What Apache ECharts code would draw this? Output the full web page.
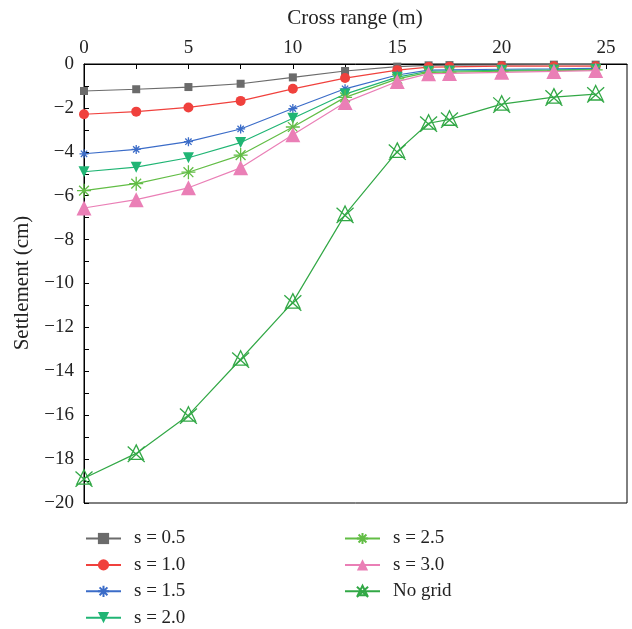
<!DOCTYPE html>
<html>
<head>
<meta charset="utf-8">
<script src="https://cdn.jsdelivr.net/npm/echarts@6/dist/echarts.min.js"></script>
<style>html,body{margin:0;padding:0;background:#fff}#c{width:632px;height:629px}</style>
</head>
<body>
<div id="c"></div>
<script>
var crossRange = [0, 2.5, 5, 7.5, 10, 12.5, 15, 16.5, 17.5, 20, 22.5, 24.5];
var s05 = [-1.23, -1.15, -1.05, -0.9, -0.61, -0.32, -0.12, -0.06, -0.05, -0.04, -0.03, -0.03];
var s10 = [-2.29, -2.17, -1.98, -1.68, -1.13, -0.64, -0.28, -0.14, -0.13, -0.1, -0.1, -0.1];
var s15 = [-4.09, -3.89, -3.54, -2.96, -2.03, -1.13, -0.5, -0.28, -0.27, -0.24, -0.22, -0.2];
var s20 = [-4.91, -4.7, -4.27, -3.58, -2.47, -1.37, -0.6, -0.33, -0.32, -0.29, -0.27, -0.24];
var s25 = [-5.77, -5.45, -4.93, -4.15, -2.87, -1.52, -0.68, -0.38, -0.37, -0.33, -0.3, -0.27];
var s30 = [-6.56, -6.18, -5.64, -4.73, -3.22, -1.75, -0.8, -0.44, -0.43, -0.38, -0.34, -0.3];
var noGrid = [-18.87, -17.74, -16.0, -13.45, -10.85, -6.86, -3.98, -2.7, -2.52, -1.83, -1.51, -1.37];
var xLabelTicks = [0, 5, 10, 15, 20, 25];
var xMinorTicks = [0, 2.5, 5, 7.5, 10, 12.5, 15, 17.5, 20, 22.5, 25];
var yTicks = [];
for (var t = -20; t <= 0; t++) yTicks.push(t);
var xTitle = 'Cross range (m)';
var yTitle = 'Settlement (cm)';

var names = ['s = 0.5', 's = 1.0', 's = 1.5', 's = 2.0', 's = 2.5', 's = 3.0', 'No grid'];
var values = [s05, s10, s15, s20, s25, s30, noGrid];
var colors = ['#6b6b6b', '#f0413d', '#3b6cc8', '#20b574', '#62bd45', '#ea7fb6', '#32a846'];
var asterisk = 'path://M5,0L5,10M0,5L10,5M1.5,1.5L8.5,8.5M1.5,8.5L8.5,1.5';
var triX = 'path://M5,0L9.2,8.5L0.8,8.5Z M0,1L10,10M10,1L0,10';
var symbols = ['rect', 'circle', asterisk, 'triangle', asterisk, 'triangle', triX];
var sizes = [8, 10, 9, 11, 14, 15, 17];
var rotates = [0, 0, 0, 180, 0, 0, 0];
var stroked = [false, false, true, false, true, false, true];

function pairs(v) { return crossRange.map(function (x, i) { return [x, v[i]]; }); }

var series = names.map(function (n, i) {
  return {
    name: n, type: 'line', data: pairs(values[i]),
    symbol: symbols[i], symbolSize: sizes[i], symbolRotate: rotates[i],
    showAllSymbol: true,
    lineStyle: { color: colors[i], width: 1.2 },
    itemStyle: stroked[i] ? { color: 'rgba(255,255,255,0)', borderColor: colors[i], borderWidth: 1.3 }
                         : { color: colors[i], borderWidth: 0 },
    emphasis: { disabled: true },
    z: 2 + i
  };
});

var font = 'Liberation Serif';
var legendText = { fontFamily: font, fontSize: 19, color: '#222', padding: [0, 0, 0, 8] };
var chart = echarts.init(document.getElementById('c'));
chart.setOption({
  animation: false,
  textStyle: { fontFamily: font },
  grid: { left: 84, right: 5, top: 64, bottom: 126, show: true, borderColor: '#000', borderWidth: 1,
          containLabel: false, outerBoundsMode: 'none' },
  graphic: [
    { type: 'text', x: 355, y: 18, silent: true,
      style: { text: xTitle, font: '21px "Liberation Serif"', fill: '#222', align: 'center', verticalAlign: 'middle' } },
    { type: 'text', x: 22, y: 283, rotation: Math.PI / 2, silent: true,
      style: { text: yTitle, font: '21px "Liberation Serif"', fill: '#222', align: 'center', verticalAlign: 'middle' } }
  ],
  xAxis: {
    type: 'value', position: 'top', min: 0, max: 26, interval: 5,
    axisLine: { lineStyle: { color: '#000', width: 1 } },
    axisTick: { inside: true, length: 5, customValues: xMinorTicks, lineStyle: { color: '#000' } },
    axisLabel: { customValues: xLabelTicks, fontFamily: font, fontSize: 19, color: '#222', margin: 6 },
    splitLine: { show: false }
  },
  yAxis: {
    type: 'value', min: -20, max: 0, interval: 2,
    axisLine: { lineStyle: { color: '#000', width: 1 } },
    axisTick: { inside: true, length: 5, customValues: yTicks, lineStyle: { color: '#000' } },
    axisLabel: { fontFamily: font, fontSize: 19, color: '#222', margin: 10,
      formatter: function (v) { return String(v).replace('-', '\u2212'); } },
    splitLine: { show: false }
  },
  legend: [
    { data: names.slice(0, 4), orient: 'vertical', left: 85, top: 529, height: 140, width: 200, padding: 0,
      itemWidth: 35, itemHeight: 14, itemGap: 7.4, textStyle: legendText },
    { data: names.slice(4), orient: 'vertical', left: 344, top: 529, height: 140, width: 200, padding: 0,
      itemWidth: 35, itemHeight: 14, itemGap: 7.4, textStyle: legendText }
  ],
  series: series
});
</script>
</body>
</html>
